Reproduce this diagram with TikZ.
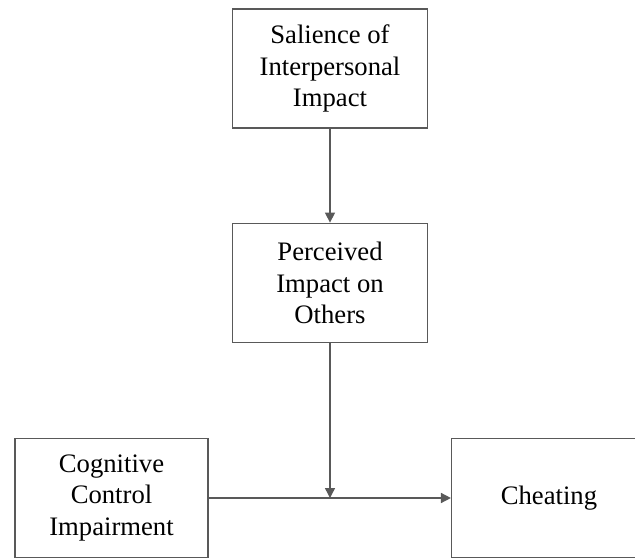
\documentclass[tikz,border=0pt]{standalone}
\usepackage{fontspec}
\setmainfont{Liberation Serif}
\usepackage{tikz}
\usetikzlibrary{arrows.meta}
\definecolor{linegray}{HTML}{595959}

\begin{document}
\begin{tikzpicture}[->,>={Triangle[length=7.5pt,width=7.5pt]},x=0.75pt,y=-0.75pt,
  line width=1.1pt,draw=linegray,
  main node/.style={draw=linegray,line width=1.1pt,align=center,
    minimum width=146pt,minimum height=89.5pt,
    font=\fontsize{20}{23.6}\selectfont,inner sep=0pt,text=black}]

  \useasboundingbox (0,0) rectangle (635,559);

  \node[main node] (sal) at (330,68.5)
    {Salience of\\Interpersonal\\Impact};
  \node[main node] (per) at (330,283)
    {Perceived\\Impact on\\Others};
  \node[main node,minimum width=145pt] (cog) at (111.5,498)
    {Cognitive\\Control\\Impairment};
  \node[main node] (che) at (549,498)
    {Cheating};

  \coordinate (mod) at (per.south |- cog.east);

  \path[->,draw=linegray]
    (sal) edge (per)
    (per) edge (mod)
    (cog) edge (che);

\end{tikzpicture}
\end{document}
